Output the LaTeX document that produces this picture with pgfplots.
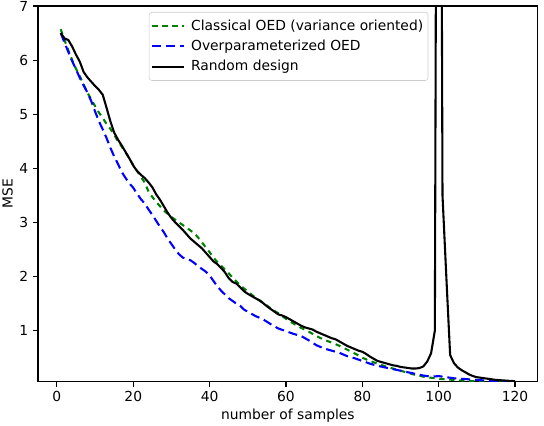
\documentclass[border=0pt]{standalone}
\usepackage{fontspec}
\setmainfont{DejaVu Sans}
\usepackage{pgfplots}
\pgfplotsset{compat=1.18}
\definecolor{mgreen}{RGB}{0,128,0}
\definecolor{mblue}{RGB}{0,0,255}
\begin{document}
\fontsize{10}{12}\selectfont
\begin{tikzpicture}
\useasboundingbox (-27.36bp,-31.9bp) rectangle (364.3bp,274.8bp);
\begin{axis}[
  scale only axis,
  width=359.8bp, height=270.5bp,
  xmin=-4.95, xmax=125.95, ymin=0.057, ymax=7,
  xtick={0,20,...,120}, ytick={1,2,...,7},
  tick pos=left, tick align=outside,
  major tick length=3.5bp,
  every tick/.style={black, line width=0.8bp},
  axis line style={line width=0.8bp},
  /pgf/number format/assume math mode=true,
  ticklabel style={font=\fontsize{10}{12}\selectfont},
  label style={font=\fontsize{10}{12}\selectfont},
  xlabel={number of samples},
  ylabel={MSE},
  xlabel style={yshift=2bp},
  ylabel style={yshift=-2bp},
  legend cell align=left,
  legend style={at={(0.222,0.984)}, anchor=north west, draw=black!20, rounded corners=2bp, fill=white, fill opacity=0.8, text opacity=1, font=\fontsize{10}{12}\selectfont, row sep=1.5bp, inner xsep=1.5bp, inner ysep=3.5bp, /tikz/every odd column/.append style={column sep=2.5bp}},
  legend image code/.code={\draw[#1] (0cm,0cm) -- (0.8cm,0cm);},
]
\addplot[mgreen, line width=1.5bp, dash pattern=on 3.8bp off 3.4bp] coordinates {
(1,6.57)(2,6.37)(3,6.18)(4,6.00)(5,5.84)(6,5.70)(7,5.55)(8,5.40)(9,5.27)(10,5.15)
(11,5.03)(12,4.93)(13,4.82)(14,4.73)(15,4.62)(16,4.50)(17,4.40)(18,4.29)(19,4.18)(20,4.06)
(21,3.95)(22,3.84)(23,3.74)(24,3.57)(25,3.47)(26,3.38)(27,3.30)(28,3.22)(29,3.16)(30,3.10)
(31,3.05)(32,3.00)(33,2.95)(34,2.90)(35,2.85)(36,2.80)(37,2.72)(38,2.63)(39,2.54)(40,2.45)
(41,2.35)(42,2.27)(43,2.20)(44,2.13)(45,2.06)(46,1.98)(47,1.91)(48,1.84)(49,1.78)(50,1.72)
(52,1.61)(54,1.52)(56,1.41)(58,1.32)(60,1.22)(62,1.13)(64,1.05)(66,0.98)(68,0.90)(70,0.83)
(72,0.78)(74,0.72)(76,0.65)(78,0.58)(80,0.50)(82,0.44)(84,0.39)(86,0.34)(88,0.30)(90,0.26)
(92,0.22)(94,0.18)(96,0.15)(98,0.13)(100,0.11)(102,0.10)(104,0.09)(106,0.08)(108,0.07)(110,0.065)
(115,0.06)(120,0.058)
};
\addlegendentry{Classical OED (variance oriented)}
\addplot[mblue, line width=1.5bp, dash pattern=on 6.5bp off 3.5bp] coordinates {
(1,6.50)(2,6.32)(3,6.15)(4,5.98)(5,5.83)(6,5.67)(7,5.53)(8,5.40)(9,5.24)(10,5.05)
(11,4.87)(12,4.72)(13,4.56)(14,4.38)(15,4.22)(16,4.08)(17,3.93)(18,3.82)(19,3.72)(20,3.64)
(21,3.53)(22,3.43)(23,3.35)(24,3.24)(25,3.14)(26,3.03)(27,2.92)(28,2.82)(29,2.70)(30,2.60)
(31,2.50)(32,2.41)(33,2.35)(34,2.32)(35,2.30)(36,2.25)(37,2.19)(38,2.14)(39,2.09)(40,2.02)
(41,1.92)(42,1.82)(43,1.74)(44,1.67)(45,1.60)(46,1.55)(47,1.50)(48,1.46)(49,1.39)(50,1.35)
(52,1.27)(54,1.21)(56,1.12)(58,1.04)(60,0.99)(62,0.94)(64,0.90)(66,0.82)(68,0.73)(70,0.67)
(72,0.63)(74,0.59)(76,0.53)(78,0.49)(80,0.44)(82,0.39)(84,0.35)(86,0.32)(88,0.29)(90,0.26)
(92,0.23)(94,0.20)(96,0.17)(98,0.15)(100,0.16)(102,0.14)(104,0.12)(106,0.11)(108,0.10)(110,0.09)
(112,0.08)(116,0.065)(120,0.06)
};
\addlegendentry{Overparameterized OED}
\addplot[black, line width=1.5bp] coordinates {
(1,6.50)(2,6.40)(3,6.37)(4,6.25)(5,6.10)(6,5.97)(7,5.78)(8,5.68)(9,5.60)(10,5.52)
(11,5.45)(12,5.36)(13,5.12)(14,4.87)(15,4.66)(16,4.53)(17,4.42)(18,4.30)(19,4.18)(20,4.05)
(21,3.95)(22,3.88)(23,3.82)(24,3.74)(25,3.65)(26,3.52)(27,3.42)(28,3.30)(29,3.18)(30,3.08)
(31,3.00)(32,2.93)(33,2.86)(34,2.78)(35,2.70)(36,2.64)(37,2.58)(38,2.52)(39,2.44)(40,2.36)
(41,2.28)(42,2.23)(43,2.16)(44,2.08)(45,1.97)(46,1.90)(47,1.87)(48,1.80)(49,1.73)(50,1.68)
(51,1.64)(52,1.60)(53,1.56)(54,1.51)(55,1.45)(56,1.40)(57,1.35)(58,1.30)(59,1.28)(60,1.25)
(61,1.21)(62,1.17)(63,1.13)(64,1.09)(65,1.06)(66,1.04)(67,1.02)(68,0.98)(69,0.95)(70,0.92)
(71,0.89)(72,0.86)(73,0.84)(74,0.80)(75,0.76)(76,0.72)(77,0.69)(78,0.66)(79,0.63)(80,0.61)
(81,0.57)(82,0.52)(83,0.48)(84,0.44)(85,0.42)(86,0.40)(87,0.38)(88,0.36)(89,0.35)(90,0.33)
(91,0.32)(92,0.31)(93,0.30)(94,0.30)(95,0.31)(96,0.34)(97,0.43)(98,0.58)(99,1.00)(100,25)
(101,3.50)(102,2.00)(103,0.55)(104,0.40)(105,0.32)(106,0.27)(107,0.23)(108,0.19)(109,0.16)(110,0.14)
(111,0.13)(112,0.12)(113,0.11)(114,0.10)(115,0.09)(116,0.085)(117,0.08)(118,0.075)(119,0.07)(120,0.068)
};
\addlegendentry{Random design}
\end{axis}
\end{tikzpicture}
\end{document}
